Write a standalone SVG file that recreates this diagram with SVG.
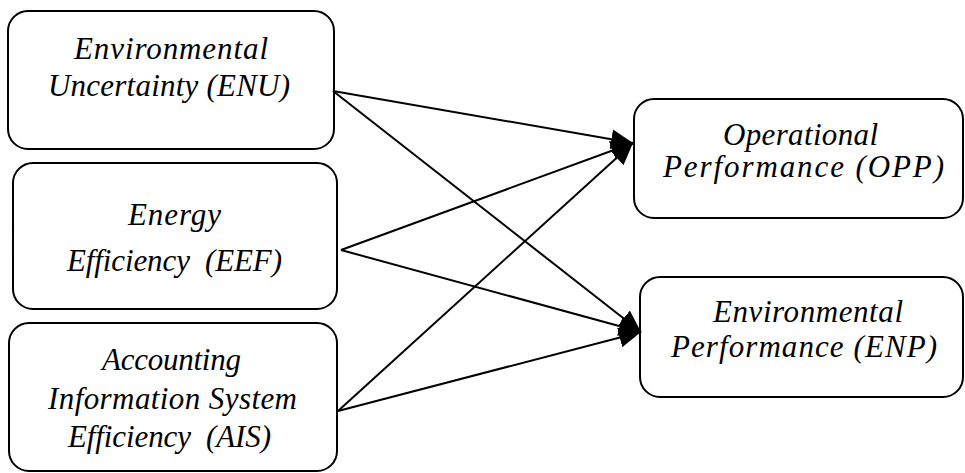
<svg xmlns="http://www.w3.org/2000/svg" width="965" height="473" viewBox="0 0 965 473">
<defs>
<style>
.box{fill:#fff;stroke:#000;stroke-width:2}
.t{font-family:"Liberation Serif","Times New Roman",serif;font-style:italic;font-size:31px;fill:#000;white-space:pre}
.c{stroke:#000;stroke-width:2;fill:none;marker-end:url(#ah)}
</style>
<marker id="ah" markerUnits="userSpaceOnUse" markerWidth="24" markerHeight="22" refX="22" refY="11" orient="auto">
<path d="M0,1 L22,11 L0,21 Z" fill="#000"/>
</marker>
</defs>
<g id="ENU">
<rect class="box" x="8" y="11" width="326" height="138" rx="20"/>
<text class="t" x="74" y="59" textLength="194" lengthAdjust="spacing">Environmental</text>
<text class="t" x="48" y="96" textLength="242" lengthAdjust="spacing">Uncertainty (ENU)</text>
</g>
<g id="EEF">
<rect class="box" x="13" y="163" width="324" height="146" rx="20"/>
<text class="t" x="128" y="225" textLength="93" lengthAdjust="spacing">Energy</text>
<text class="t" x="67" y="271" textLength="215" lengthAdjust="spacing">Efficiency  (EEF)</text>
</g>
<g id="AIS">
<rect class="box" x="9" y="323" width="328" height="148" rx="20"/>
<text class="t" x="102" y="370" textLength="139" lengthAdjust="spacing">Accounting</text>
<text class="t" x="48" y="409" textLength="249" lengthAdjust="spacing">Information System</text>
<text class="t" x="68" y="447" textLength="203" lengthAdjust="spacing">Efficiency  (AIS)</text>
</g>
<g id="OPP">
<rect class="box" x="634" y="99" width="329" height="119" rx="20"/>
<text class="t" x="723" y="145" textLength="155" lengthAdjust="spacing">Operational</text>
<text class="t" x="663" y="177" textLength="281" lengthAdjust="spacing">Performance (OPP)</text>
</g>
<g id="ENP">
<rect class="box" x="640" y="277" width="323" height="120" rx="20"/>
<text class="t" x="713" y="322" textLength="190" lengthAdjust="spacing">Environmental</text>
<text class="t" x="671" y="357" textLength="266" lengthAdjust="spacing">Performance (ENP)</text>
</g>
<g id="connectors">
<line class="c" x1="333" y1="91" x2="633" y2="143"/>
<line class="c" x1="333" y1="91" x2="641" y2="332"/>
<line class="c" x1="341" y1="250" x2="633" y2="143"/>
<line class="c" x1="341" y1="250" x2="641" y2="332"/>
<line class="c" x1="338" y1="411" x2="633" y2="143"/>
<line class="c" x1="338" y1="411" x2="641" y2="332"/>
</g>
</svg>
